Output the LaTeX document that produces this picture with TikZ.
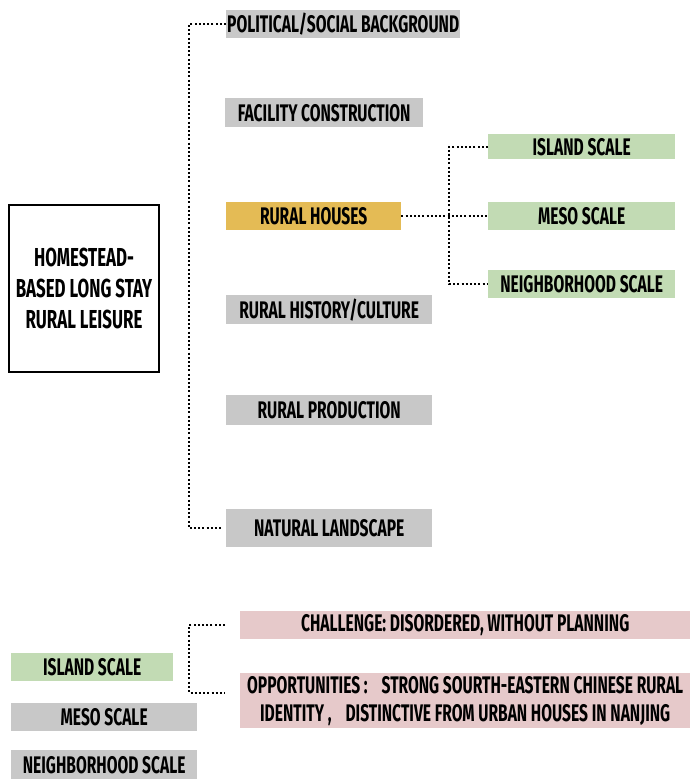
\documentclass[tikz,border=0pt]{standalone}
\usepackage{fontspec}
\setmainfont[FakeStretch=0.65]{Fira Sans}
\usetikzlibrary{positioning}
\definecolor{tagray}{HTML}{C8C8C8}
\definecolor{taggreen}{HTML}{C2DBB4}
\definecolor{taggold}{HTML}{E4BB55}
\definecolor{tagpink}{HTML}{E6C9CA}
\tikzset{
  tag/.style={
    rectangle,
    inner sep=0pt,
    anchor=north west,
    align=center,
    font=\bfseries\fontsize{24}{28}\selectfont
  },
  graytag/.style={tag, fill=tagray},
  greentag/.style={tag, fill=taggreen},
  goldtag/.style={tag, fill=taggold},
  pinktag/.style={tag, fill=tagpink},
  topic/.style={
    rectangle,
    draw=black,
    line width=2.2pt,
    fill=white,
    align=center,
    font=\bfseries\fontsize{26}{31}\selectfont
  },
  link/.style={draw=black, line width=2pt, dash pattern=on 2pt off 2.2pt}
}
\begin{document}
\begin{tikzpicture}[x=1pt, y=-1pt]
  \useasboundingbox (0,0) rectangle (690,779);

  % main topic
  \node[topic, minimum width=150, minimum height=167] (leisure) at (84,288.5) {HOMESTEAD-\\BASED LONG STAY\\RURAL LEISURE};

  % factors
  \node[graytag, minimum width=234, minimum height=28] (political) at (226,10) {POLITICAL/SOCIAL BACKGROUND};
  \node[graytag, minimum width=198, minimum height=29] (facility) at (225,98) {FACILITY CONSTRUCTION};
  \node[goldtag, minimum width=175, minimum height=28] (houses) at (226,202) {RURAL HOUSES};
  \node[graytag, minimum width=206, minimum height=29] (history) at (226,295) {RURAL HISTORY/CULTURE};
  \node[graytag, minimum width=206, minimum height=30] (production) at (226,395) {RURAL PRODUCTION};
  \node[graytag, minimum width=206, minimum height=38] (landscape) at (226,509) {NATURAL LANDSCAPE};

  % scales of rural houses
  \node[greentag, minimum width=187, minimum height=25] (island) at (488,134) {ISLAND SCALE};
  \node[greentag, minimum width=187, minimum height=28] (meso) at (488,202) {MESO SCALE};
  \node[greentag, minimum width=187, minimum height=28] (hood) at (488,270) {NEIGHBORHOOD SCALE};

  \draw[link] (political.west) -- ++(-37,0) |- ([xshift=-4]landscape.west);
  \draw[link] (houses.east) -- (meso.west);
  \draw[link] (island.west) -- ++(-39,0) |- (hood.west);

  % legend of scales
  \node[greentag, minimum width=162, minimum height=28] (islandkey) at (11,653) {ISLAND SCALE};
  \node[graytag, minimum width=186, minimum height=28] (mesokey) at (11,703) {MESO SCALE};
  \node[graytag, minimum width=186, minimum height=29] (hoodkey) at (11,750) {NEIGHBORHOOD SCALE};

  % challenge and opportunities
  \node[pinktag, minimum width=450, minimum height=28] (challenge) at (240,611) {CHALLENGE: DISORDERED, WITHOUT PLANNING};
  \node[pinktag, minimum width=450, minimum height=55] (chance) at (240,673) {OPPORTUNITIES :\hspace{14pt}STRONG SOURTH-EASTERN CHINESE RURAL\\IDENTITY ,\hspace{14pt}DISTINCTIVE FROM URBAN HOUSES IN NANJING};

  \draw[link] ([xshift=-15]challenge.west) -- ++(-36,0) |- ([xshift=-15,yshift=8]chance.west);
\end{tikzpicture}
\end{document}
